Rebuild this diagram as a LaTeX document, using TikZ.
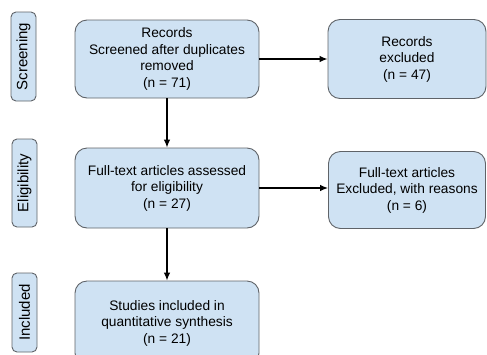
\documentclass[tikz,border=0pt]{standalone}
\usepackage{xcolor}
\usepackage{fontspec}
\setmainfont{Liberation Sans}
\usetikzlibrary{arrows.meta}
\definecolor{boxfill}{HTML}{CFE2F3}
\definecolor{boxline}{HTML}{5F6368}

\begin{document}
\begin{tikzpicture}[x=1pt, y=-1pt,
  stage/.style={draw=boxline, fill=boxfill, line width=0.9pt, rounded corners=12pt, align=center, inner sep=0pt, font=\fontsize{13.75}{16.5}\selectfont},
  phase/.style={draw=boxline, fill=boxfill, line width=0.9pt, rounded corners=5pt, rotate=90, minimum height=25pt, inner sep=0pt, font=\fontsize{15}{18}\selectfont},
  flow/.style={-{Latex[length=8pt,width=6.5pt]}, line width=1.2pt}]
\clip (0,0) rectangle (487,354);
% phases on the left
\node[phase, minimum width=89pt] (Screening) at (23.5,56.5) {Screening};
\node[phase, minimum width=88pt] (Eligibility) at (24.5,183) {Eligibility};
\node[phase, minimum width=79pt] (Included) at (24.5,312.5) {Included};
% main column
\node[stage, minimum width=184pt, minimum height=78pt] (Screened) at (167,59) {Records\\Screened after duplicates\\removed\\(n = 71)};
\node[stage, minimum width=184pt, minimum height=80pt] (Assessed) at (167,188) {Full-text articles assessed\\for eligibility\\(n = 27)};
\node[stage, minimum width=184pt, minimum height=84pt] (Synthesis) at (167,323) {Studies included in\\quantitative synthesis\\(n = 21)};
% exclusions
\node[stage, minimum width=158pt, minimum height=79pt] (Excluded) at (407,59) {Records\\excluded\\(n = 47)};
\node[stage, minimum width=157pt, minimum height=77pt] (Reasons) at (407,190) {Full-text articles\\Excluded, with reasons\\(n = 6)};
% arrows
\draw[flow] (Screened.east) -- (Excluded.west);
\draw[flow] (Assessed.east) -- (Assessed.east -| Reasons.west);
\draw[flow] (Screened.south) -- (Assessed.north);
\draw[flow] (Assessed.south) -- (Synthesis.north);
\end{tikzpicture}
\end{document}
